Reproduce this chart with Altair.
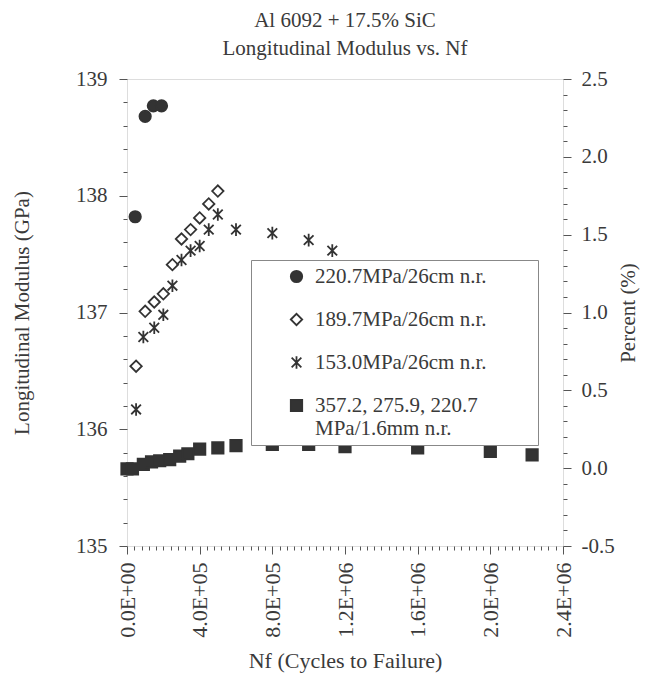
import altair as alt
import pandas as pd

# ---- data ----
series_names = [
    "220.7MPa/26cm n.r.",
    "189.7MPa/26cm n.r.",
    "153.0MPa/26cm n.r.",
    "357.2,  275.9, 220.7\nMPa/1.6mm n.r.",
]

circ_x = [45000, 100000, 145000, 190000]
circ_y = [137.82, 138.68, 138.77, 138.77]

diam_x = [50000, 100000, 150000, 200000, 250000, 300000, 350000, 400000, 450000, 500000]
diam_y = [136.54, 137.01, 137.09, 137.16, 137.41, 137.63, 137.71, 137.81, 137.93, 138.04]

ast_x = [50000, 90000, 150000, 200000, 250000, 300000, 350000, 400000, 450000, 500000,
         600000, 800000, 1000000, 1130000]
ast_y = [136.17, 136.79, 136.87, 136.98, 137.23, 137.45, 137.53, 137.57, 137.71, 137.84,
         137.71, 137.68, 137.62, 137.53]

sq_x = [0, 30000, 90000, 135000, 180000, 235000, 290000, 335000, 400000, 500000, 600000,
        800000, 1000000, 1200000, 1600000, 2000000, 2230000]
sq_y = [135.66, 135.66, 135.70, 135.72, 135.73, 135.74, 135.77, 135.79, 135.83, 135.84,
        135.86, 135.87, 135.87, 135.85, 135.84, 135.81, 135.78]

x_major = [0, 400000, 800000, 1200000, 1600000, 2000000, 2400000]
x_labels = ["0.0E+00", "4.0E+05", "8.0E+05", "1.2E+06", "1.6E+06", "2.0E+06", "2.4E+06"]

title_lines = ["Al 6092 + 17.5% SiC", "Longitudinal Modulus vs. Nf"]

rows = []
for name, xs, ys in zip(series_names, [circ_x, diam_x, ast_x, sq_x], [circ_y, diam_y, ast_y, sq_y]):
    for a, b in zip(xs, ys):
        rows.append({"series": name, "nf": a, "modulus": b})
df = pd.DataFrame(rows)

FONT = "Liberation Serif"
INK = "#333333"
TXT = "#3a3a3a"
asterisk = "M-0.85,-0.85L0.85,0.85M-0.85,0.85L0.85,-0.85M0,-1.1L0,1.1"

x_vals = list(range(0, 2400001, 40000))
x_label_expr = " : ".join(f"datum.value == {v} ? '{l}'" for v, l in zip(x_major, x_labels)) + " : ''"
yl_vals = [round(135 + 0.2 * i, 1) for i in range(21)]
yr_vals = [round(-0.5 + 0.1 * i, 1) for i in range(31)]

# blank, non-whitespace filler so the legend frame is as wide as the reference's
pad = "\u2800" * 3
legend = alt.Legend(
    title=None, orient="none", legendX=124, legendY=181,
    strokeColor="#888", fillColor="white", padding=6,
    labelFont=FONT, labelFontSize=21, labelColor=TXT, labelLimit=500,
    labelExpr="split(datum.label + '" + pad + "', '\\n')",
    rowPadding=21, symbolSize=130, symbolStrokeWidth=1.8, symbolOffset=29,
    labelOffset=8,
)

x_axis = alt.Axis(
    title="Nf (Cycles to Failure)", values=x_vals, labelExpr=x_label_expr,
    labelAngle=270, labelOverlap=False, labelBound=False, labelFlush=False, grid=False, domain=False,
    tickSize={"condition": {"test": "datum.value % 400000 == 0", "value": 8}, "value": 4},
    tickColor="#555", labelPadding=8,
    labelFont=FONT, labelFontSize=22, labelColor=TXT,
    titleFont=FONT, titleFontSize=22, titleFontWeight="normal", titleColor=TXT, titlePadding=13,
)
x_scale = alt.Scale(domain=[0, 2400000], nice=False, zero=False)

points = alt.Chart(df).mark_point(opacity=1, strokeWidth=1.8).encode(
    x=alt.X("nf:Q", scale=x_scale, axis=x_axis),
    y=alt.Y(
        "modulus:Q",
        scale=alt.Scale(domain=[135, 139], nice=False, zero=False),
        axis=alt.Axis(
            title="Longitudinal Modulus (GPa)", values=yl_vals,
            labelExpr="abs(datum.value - round(datum.value)) < 0.01 ? format(datum.value, '.0f') : ''",
            labelOverlap=False, grid=False, domain=False,
            tickSize={"condition": {"test": "abs(datum.value - round(datum.value)) < 0.01", "value": 8}, "value": 4},
            tickColor="#555", labelPadding=12,
            labelFont=FONT, labelFontSize=21, labelColor=TXT,
            titleFont=FONT, titleFontSize=21, titleFontWeight="normal", titleColor=TXT, titlePadding=43,
        ),
    ),
    shape=alt.Shape("series:N", scale=alt.Scale(domain=series_names, range=["circle", "diamond", asterisk, "square"]), legend=legend),
    fill=alt.Fill("series:N", scale=alt.Scale(domain=series_names, range=[INK, "white", "transparent", INK]), legend=legend),
    stroke=alt.Stroke("series:N", scale=alt.Scale(domain=series_names, range=[INK, INK, INK, INK]), legend=legend),
    size=alt.value(130),
)

right = alt.Chart(df).transform_filter(
    alt.datum.series == series_names[3]
).transform_calculate(
    pct="(datum.modulus - 135) * 0.75 - 0.5"
).mark_point(opacity=0).encode(
    x=alt.X("nf:Q", scale=x_scale, axis=x_axis),
    y=alt.Y(
        "pct:Q",
        scale=alt.Scale(domain=[-0.5, 2.5], nice=False, zero=False),
        axis=alt.Axis(
            orient="right", title="Percent (%)", values=yr_vals,
            labelExpr="abs(datum.value*2 - round(datum.value*2)) < 0.01 ? (datum.value < 0 ? '-' : '') + format(abs(datum.value), '.1f') : ''",
            labelOverlap=False, grid=False, domain=False,
            tickSize={"condition": {"test": "abs(datum.value*2 - round(datum.value*2)) < 0.01", "value": 8}, "value": 4},
            tickColor="#555", labelPadding=10, titleAngle=270,
            labelFont=FONT, labelFontSize=21, labelColor=TXT,
            titleFont=FONT, titleFontSize=21, titleFontWeight="normal", titleColor=TXT, titlePadding=24,
        ),
    ),
)

chart = alt.layer(points, right).resolve_scale(y="independent").properties(
    width=436, height=467,
    title=alt.TitleParams(
        text=title_lines, font=FONT, fontSize=21, fontWeight="normal", color=TXT,
        anchor="middle", lineHeight=28, offset=9,
    ),
    autosize=alt.AutoSizeParams(type="none"),
    padding={"left": 119, "top": 71, "right": 90, "bottom": 130},
).configure_view(stroke="#555", strokeWidth=1.5).configure(background="white")

chart.save("out.html", embed_options={"renderer": "svg", "actions": False})
